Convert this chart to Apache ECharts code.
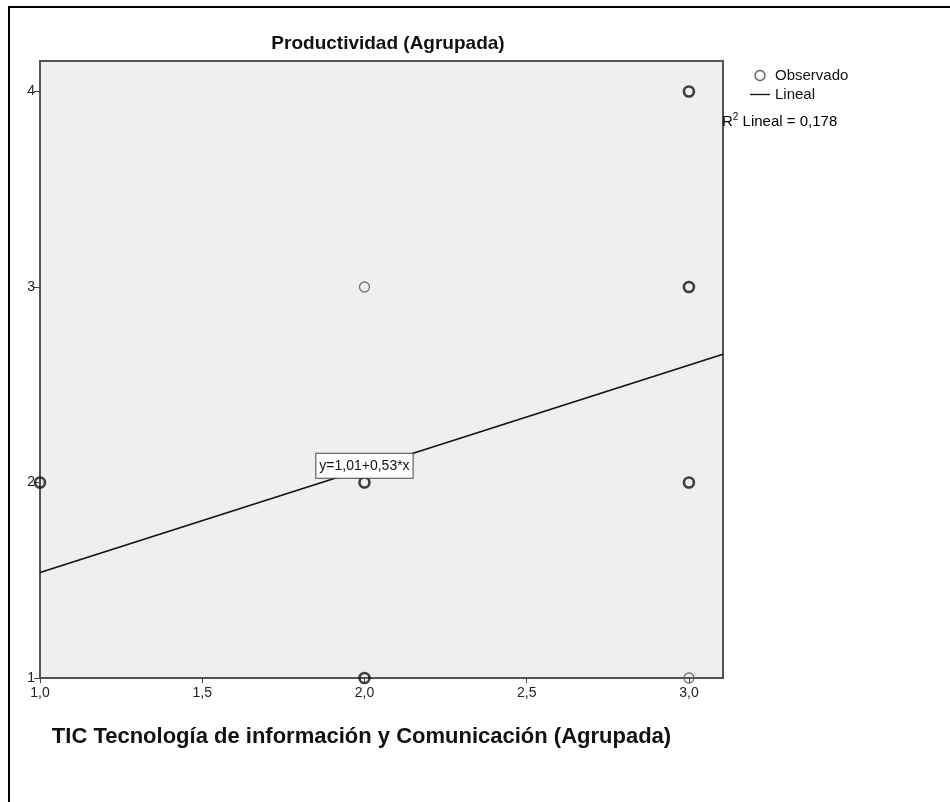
<!DOCTYPE html>
<html>
<head>
<meta charset="utf-8">
<script src="https://cdn.jsdelivr.net/npm/echarts@6/dist/echarts.min.js"></script>
<style>
  html, body { margin: 0; padding: 0; background: #ffffff; }
  #chart { width: 950px; height: 802px; }
</style>
</head>
<body>
<div id="chart"></div>
<script>
// Observed cases: TIC (x) vs Productividad (y); count > 1 marks overlapping cases
const obsX = [1, 2, 2, 2, 3, 3, 3, 3];
const obsY = [2, 3, 2, 1, 4, 3, 2, 1];
const obsCount = [2, 1, 3, 2, 3, 3, 3, 1];

// Linear fit y = a + b*x
const fitIntercept = 1.01;
const fitSlope = 0.53;
const rSquared = 0.178;

// Axis ranges and tick labels
const xMin = 1, xMax = 3.105;
const yMin = 1, yMax = 4.156;
const xTicks = [1, 1.5, 2, 2.5, 3];
const yTicks = [1, 2, 3, 4];
const labelAtX = 2;

const fmt = (v, d) => v.toFixed(d).replace('.', ',');
const FONT = '"Liberation Sans", Arial, sans-serif';

const chart = echarts.init(document.getElementById('chart'), null, { renderer: 'canvas' });

const scatterData = obsX.map((x, i) => ({
  value: [x, obsY[i]],
  itemStyle: { borderWidth: obsCount[i] > 1 ? 2.6 : 1.3, borderColor: obsCount[i] > 1 ? '#111' : '#555' }
}));

const fitLine = [xMin, xMax].map(x => [x, fitIntercept + fitSlope * x]);

const option = {
  animation: false,
  backgroundColor: '#ffffff',
  title: {
    text: 'Productividad (Agrupada)',
    left: 383, top: 29, textAlign: 'center',
    textStyle: { fontFamily: FONT, fontSize: 19, fontWeight: 'bold', color: '#111' }
  },
  legend: {
    orient: 'vertical',
    left: 745, top: 63,
    itemGap: 4,
    itemWidth: 20, itemHeight: 10,
    textStyle: { fontFamily: FONT, fontSize: 15, color: '#111' },
    data: [
      { name: 'Observado', icon: 'circle', itemStyle: { color: '#ffffff', borderColor: '#333', borderWidth: 1.3 } },
      { name: 'Lineal', icon: 'path://M0,0H30V2H0Z', itemStyle: { color: '#111' } }
    ]
  },
  grid: {
    left: 40, top: 61, right: 227, bottom: 124,
    show: true, backgroundColor: '#efefef', borderColor: '#555', borderWidth: 2,
    containLabel: false
  },
  xAxis: {
    type: 'value', min: xMin, max: xMax,
    name: 'TIC Tecnología de información y Comunicación (Agrupada)',
    nameLocation: 'middle', nameGap: 48,
    nameTextStyle: { fontFamily: FONT, fontSize: 22, fontWeight: 'bold', color: '#111', padding: [0, 40, 0, 0] },
    splitLine: { show: false },
    axisLine: { show: false },
    axisTick: { show: true, length: 5, lineStyle: { color: '#444' }, customValues: xTicks },
    axisLabel: { fontFamily: FONT, fontSize: 14, color: '#222', margin: 8, customValues: xTicks, formatter: v => fmt(v, 1) }
  },
  yAxis: {
    type: 'value', min: yMin, max: yMax,
    splitLine: { show: false },
    axisLine: { show: false },
    axisTick: { show: true, length: 6, lineStyle: { color: '#444' }, customValues: yTicks },
    axisLabel: { fontFamily: FONT, fontSize: 14, color: '#222', margin: 5, customValues: yTicks, formatter: v => String(Math.round(v)) }
  },
  series: [
    {
      name: 'Observado', type: 'scatter',
      symbol: 'circle', symbolSize: 10,
      itemStyle: { color: 'rgba(0,0,0,0)' },
      data: scatterData, z: 3
    },
    {
      name: 'Lineal', type: 'line',
      showSymbol: false, symbol: 'none',
      lineStyle: { color: '#111', width: 1.6 },
      data: fitLine, z: 2,
      markPoint: {
        symbol: 'rect', symbolSize: 1,
        itemStyle: { color: 'rgba(0,0,0,0)' },
        label: {
          show: true, position: 'inside',
          formatter: 'y=' + fmt(fitIntercept, 2) + '+' + fmt(fitSlope, 2) + '*x',
          fontFamily: FONT, fontSize: 14, color: '#111',
          backgroundColor: '#ffffff', borderColor: '#444', borderWidth: 1,
          padding: [5, 3, 5, 3], offset: [0, -3]
        },
        data: [{ coord: [labelAtX, fitIntercept + fitSlope * labelAtX] }]
      }
    }
  ],
  graphic: [
    {
      type: 'rect', silent: true, z: -1,
      shape: { x: 9, y: 7, width: 1000, height: 900 },
      style: { fill: 'none', stroke: '#000', lineWidth: 2 }
    },
    {
      type: 'text', left: 722, top: 112,
      style: {
        text: '{b|R}{s|2}{b| Lineal = ' + fmt(rSquared, 3) + '}',
        rich: {
          b: { fontFamily: FONT, fontSize: 15, color: '#111', verticalAlign: 'bottom' },
          s: { fontFamily: FONT, fontSize: 10, color: '#111', verticalAlign: 'top', padding: [0, 0, 7, 0] }
        }
      }
    }
  ]
};

chart.setOption(option);
</script>
</body>
</html>
